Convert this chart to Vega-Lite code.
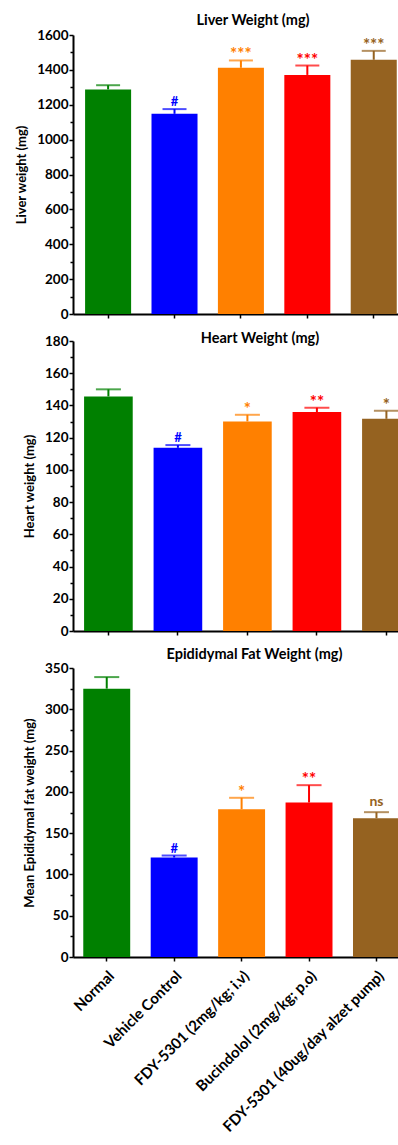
{
  "$schema": "https://vega.github.io/schema/vega-lite/v6.json",
  "padding": {"left": 7, "top": 12, "right": 0, "bottom": 0},
  "background": "white",
  "config": {
    "font": "Lato",
    "view": {"stroke": null},
    "axis": {"domainColor": "black", "domainWidth": 2, "tickColor": "black", "tickWidth": 1.5, "labelColor": "black", "labelFont": "Lato", "labelFontWeight": "bold", "labelFontSize": 13.5, "labelLimit": 0, "titleFont": "Lato", "titleFontWeight": "bold", "titleFontSize": 13, "titleColor": "black", "grid": false},
    "title": {"font": "Lato", "fontSize": 14.5, "fontWeight": "bold", "color": "black", "anchor": "middle"}
  },
  "datasets": {
    "d": [
      {"organ": "liver", "group": "Normal", "mean": 1288, "upper": 1312, "sig": ""},
      {"organ": "liver", "group": "Vehicle Control", "mean": 1148, "upper": 1175, "sig": "#"},
      {"organ": "liver", "group": "FDY-5301 (2mg/kg; i.v)", "mean": 1412, "upper": 1454, "sig": "***"},
      {"organ": "liver", "group": "Bucindolol (2mg/kg; p.o)", "mean": 1371, "upper": 1425, "sig": "***"},
      {"organ": "liver", "group": "FDY-5301 (40ug/day alzet pump)", "mean": 1458, "upper": 1509, "sig": "***"},
      {"organ": "heart", "group": "Normal", "mean": 145.6, "upper": 150.0, "sig": ""},
      {"organ": "heart", "group": "Vehicle Control", "mean": 113.7, "upper": 115.4, "sig": "#"},
      {"organ": "heart", "group": "FDY-5301 (2mg/kg; i.v)", "mean": 130.1, "upper": 134.2, "sig": "*"},
      {"organ": "heart", "group": "Bucindolol (2mg/kg; p.o)", "mean": 135.9, "upper": 138.6, "sig": "**"},
      {"organ": "heart", "group": "FDY-5301 (40ug/day alzet pump)", "mean": 131.7, "upper": 136.7, "sig": "*"},
      {"organ": "fat", "group": "Normal", "mean": 325, "upper": 339, "sig": ""},
      {"organ": "fat", "group": "Vehicle Control", "mean": 120.5, "upper": 122.9, "sig": "#"},
      {"organ": "fat", "group": "FDY-5301 (2mg/kg; i.v)", "mean": 179, "upper": 192.8, "sig": "*"},
      {"organ": "fat", "group": "Bucindolol (2mg/kg; p.o)", "mean": 187.1, "upper": 208.1, "sig": "**"},
      {"organ": "fat", "group": "FDY-5301 (40ug/day alzet pump)", "mean": 168.1, "upper": 175.4, "sig": "ns"}
    ]
  },
  "columns": 1,
  "align": "none",
  "spacing": 9,
  "concat": [
    {
      "title": {"text": "Liver Weight (mg)", "dx": 16, "offset": 0},
      "width": 328,
      "height": 279,
      "data": {"name": "d"},
      "transform": [{"filter": "datum.organ === 'liver'"}],
      "resolve": {"axis": {"y": "independent"}},
      "encoding": {
        "x": {"field": "group", "type": "nominal", "sort": null,
          "scale": {"paddingInner": 0.307, "paddingOuter": 0.123, "align": 0.74},
          "axis": {"labels": false, "title": null, "tickSize": 4}},
        "color": {"field": "group", "type": "nominal", "sort": null, "legend": null,
          "scale": {"domain": ["Normal", "Vehicle Control", "FDY-5301 (2mg/kg; i.v)", "Bucindolol (2mg/kg; p.o)", "FDY-5301 (40ug/day alzet pump)"], "range": ["#008000", "#0000ff", "#ff8000", "#ff0000", "#956220"]}}
      },
      "layer": [
        {"mark": {"type": "bar"},
          "encoding": {"y": {"field": "mean", "type": "quantitative", "scale": {"domain": [0, 1600], "nice": false},
            "axis": {"orient": "left", "format": "d", "values": [0, 200, 400, 600, 800, 1000, 1200, 1400, 1600], "title": ["", "Liver weight (mg)"], "titleLineHeight": 8, "tickSize": 4, "labelPadding": 1, "titlePadding": 8}}}},
        {"mark": {"type": "rule", "strokeWidth": 2},
          "encoding": {"y": {"field": "mean", "type": "quantitative",
            "axis": {"orient": "left", "values": [100, 300, 500, 700, 900, 1100, 1300, 1500], "labels": false, "domain": false, "title": null, "tickSize": 3}},
            "y2": {"field": "upper"}}},
        {"mark": {"type": "tick", "thickness": 2, "size": 24},
          "encoding": {"y": {"field": "upper", "type": "quantitative", "axis": null}}},
        {"transform": [{"filter": "datum.sig === '#'"}],
          "mark": {"type": "text", "baseline": "alphabetic", "dy": -3, "fontSize": 13, "fontWeight": "bold"},
          "encoding": {"y": {"field": "upper", "type": "quantitative", "axis": null}, "text": {"field": "sig"}}},
        {"transform": [{"filter": "indexof(datum.sig, '*') >= 0"}],
          "mark": {"type": "text", "baseline": "alphabetic", "dy": 0, "fontSize": 17, "fontWeight": "bold"},
          "encoding": {"y": {"field": "upper", "type": "quantitative", "axis": null}, "text": {"field": "sig"}}}
      ]
    },
    {
      "title": {"text": "Heart Weight (mg)", "dx": 17, "offset": -12},
      "width": 340,
      "height": 290,
      "data": {"name": "d"},
      "transform": [{"filter": "datum.organ === 'heart'"}],
      "resolve": {"axis": {"y": "independent"}},
      "encoding": {
        "x": {"field": "group", "type": "nominal", "sort": null,
          "scale": {"paddingInner": 0.3, "paddingOuter": 0.096, "align": 0.83},
          "axis": {"labels": false, "title": null, "tickSize": 4}},
        "color": {"field": "group", "type": "nominal", "sort": null, "legend": null,
          "scale": {"domain": ["Normal", "Vehicle Control", "FDY-5301 (2mg/kg; i.v)", "Bucindolol (2mg/kg; p.o)", "FDY-5301 (40ug/day alzet pump)"], "range": ["#008000", "#0000ff", "#ff8000", "#ff0000", "#956220"]}}
      },
      "layer": [
        {"mark": {"type": "bar"},
          "encoding": {"y": {"field": "mean", "type": "quantitative", "scale": {"domain": [0, 180], "nice": false},
            "axis": {"orient": "left", "format": "d", "values": [0, 20, 40, 60, 80, 100, 120, 140, 160, 180], "title": "Heart weight (mg)", "tickSize": 4, "labelPadding": 1, "titlePadding": 8}}}},
        {"mark": {"type": "rule", "strokeWidth": 2},
          "encoding": {"y": {"field": "mean", "type": "quantitative",
            "axis": {"orient": "left", "values": [10, 30, 50, 70, 90, 110, 130, 150, 170], "labels": false, "domain": false, "title": null, "tickSize": 3}},
            "y2": {"field": "upper"}}},
        {"mark": {"type": "tick", "thickness": 2, "size": 25},
          "encoding": {"y": {"field": "upper", "type": "quantitative", "axis": null}}},
        {"transform": [{"filter": "datum.sig === '#'"}],
          "mark": {"type": "text", "baseline": "alphabetic", "dy": -3, "fontSize": 13, "fontWeight": "bold"},
          "encoding": {"y": {"field": "upper", "type": "quantitative", "axis": null}, "text": {"field": "sig"}}},
        {"transform": [{"filter": "indexof(datum.sig, '*') >= 0"}],
          "mark": {"type": "text", "baseline": "alphabetic", "dy": 0, "fontSize": 17, "fontWeight": "bold"},
          "encoding": {"y": {"field": "upper", "type": "quantitative", "axis": null}, "text": {"field": "sig"}}}
      ]
    },
    {
      "title": {"text": "Epididymal Fat Weight (mg)", "dx": 14, "offset": -1.5},
      "width": 335,
      "height": 289,
      "data": {"name": "d"},
      "transform": [{"filter": "datum.organ === 'fat'"}],
      "resolve": {"axis": {"y": "independent"}},
      "encoding": {
        "x": {"field": "group", "type": "nominal", "sort": null,
          "scale": {"paddingInner": 0.304, "paddingOuter": 0.136, "align": 0.56},
          "axis": {"title": null, "tickSize": 4, "labelAngle": -45, "labelFontSize": 15, "labelPadding": 7}},
        "color": {"field": "group", "type": "nominal", "sort": null, "legend": null,
          "scale": {"domain": ["Normal", "Vehicle Control", "FDY-5301 (2mg/kg; i.v)", "Bucindolol (2mg/kg; p.o)", "FDY-5301 (40ug/day alzet pump)"], "range": ["#008000", "#0000ff", "#ff8000", "#ff0000", "#956220"]}}
      },
      "layer": [
        {"mark": {"type": "bar"},
          "encoding": {"y": {"field": "mean", "type": "quantitative", "scale": {"domain": [0, 350], "nice": false},
            "axis": {"orient": "left", "format": "d", "values": [0, 50, 100, 150, 200, 250, 300, 350], "title": ["", "Mean Epididymal fat weight (mg)"], "titleLineHeight": 5, "tickSize": 4, "labelPadding": 1, "titlePadding": 8}}}},
        {"mark": {"type": "rule", "strokeWidth": 2},
          "encoding": {"y": {"field": "mean", "type": "quantitative",
            "axis": {"orient": "left", "values": [25, 75, 125, 175, 225, 275, 325], "labels": false, "domain": false, "title": null, "tickSize": 3}},
            "y2": {"field": "upper"}}},
        {"mark": {"type": "tick", "thickness": 2, "size": 25},
          "encoding": {"y": {"field": "upper", "type": "quantitative", "axis": null}}},
        {"transform": [{"filter": "datum.sig === '#'"}],
          "mark": {"type": "text", "baseline": "alphabetic", "dy": -3, "fontSize": 13, "fontWeight": "bold"},
          "encoding": {"y": {"field": "upper", "type": "quantitative", "axis": null}, "text": {"field": "sig"}}},
        {"transform": [{"filter": "datum.sig === 'ns'"}],
          "mark": {"type": "text", "baseline": "alphabetic", "dy": -6, "fontSize": 14, "fontWeight": "bold"},
          "encoding": {"y": {"field": "upper", "type": "quantitative", "axis": null}, "text": {"field": "sig"}}},
        {"transform": [{"filter": "indexof(datum.sig, '*') >= 0"}],
          "mark": {"type": "text", "baseline": "alphabetic", "dy": 0, "fontSize": 17, "fontWeight": "bold"},
          "encoding": {"y": {"field": "upper", "type": "quantitative", "axis": null}, "text": {"field": "sig"}}}
      ]
    }
  ]
}
